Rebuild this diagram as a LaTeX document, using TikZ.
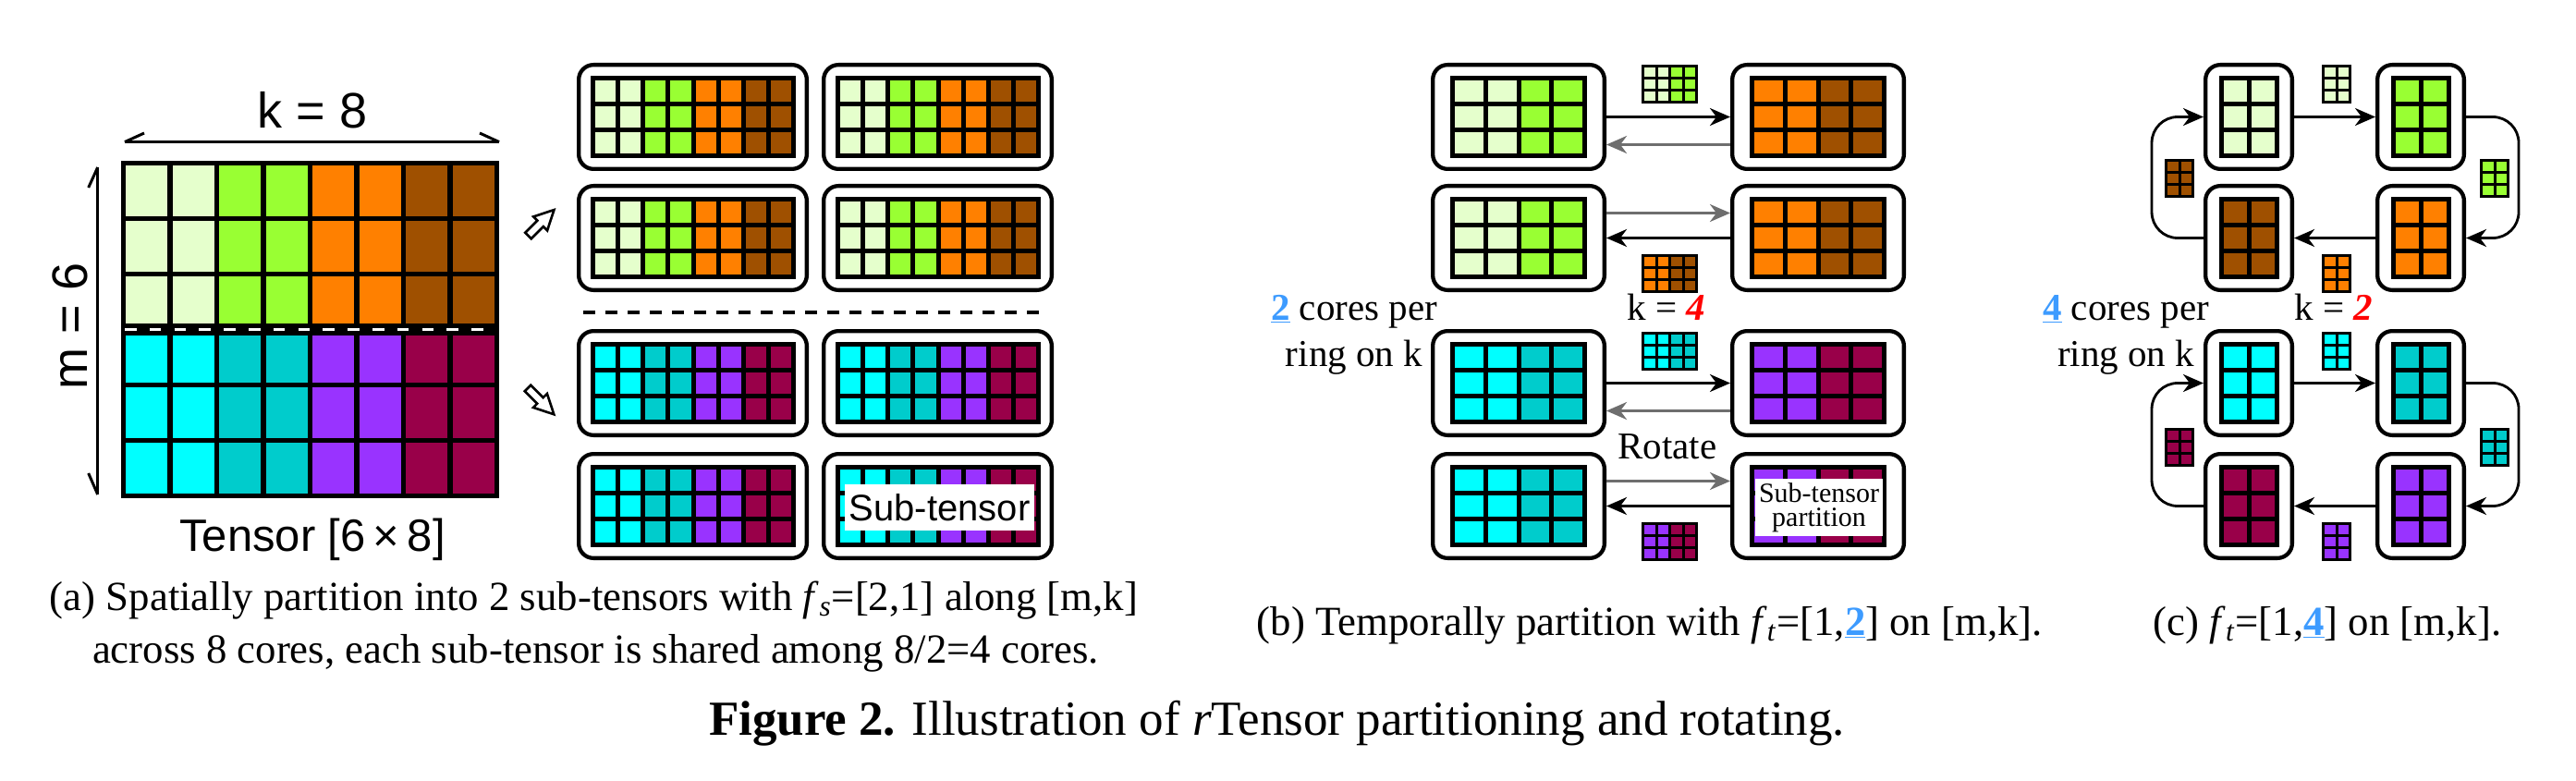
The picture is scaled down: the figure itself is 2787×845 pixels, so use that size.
\documentclass[tikz,border=0pt]{standalone}
\usepackage{fontspec}
\setmainfont{Liberation Serif}
\newfontfamily\arialf{Liberation Sans}
\usetikzlibrary{arrows.meta,calc}
\definecolor{lg}{HTML}{E5FFCC}
\definecolor{gr}{HTML}{99FF33}
\definecolor{og}{HTML}{FF8000}
\definecolor{br}{HTML}{9F5000}
\definecolor{cy}{HTML}{00FFFF}
\definecolor{tl}{HTML}{00CCCC}
\definecolor{pu}{HTML}{9933FF}
\definecolor{mr}{HTML}{990049}
\definecolor{lnk}{HTML}{3D9BFF}
\definecolor{gry}{HTML}{6E6E6E}
% x0, y0, cell w, cell h, last row index, line width, colour list
\newcommand{\tgrid}[7]{%
  \foreach \cc [count=\ii from 0] in #7{%
    \foreach \jj in {0,...,#5}{%
      \draw[line width=#6, fill=\cc] ({#1+\ii*#3},{#2+\jj*#4}) rectangle ++(#3,#4);
    }}}
\begin{document}
\begin{tikzpicture}[x=0.5pt,y=-0.5pt,
  corebox/.style={draw, line width=2.15pt, rounded corners=8pt, inner sep=0pt, fill=white},
  blkarr/.style={line width=1.4pt, -{Stealth[length=11pt,width=9.5pt,inset=3.5pt]}},
  gryarr/.style={blkarr, draw=gry},
  dimline/.style={line width=1.5pt},
  hollow/.style={line width=1.3pt, fill=white, line join=miter},
  sanslbl/.style={font=\arialf\fontsize{27}{30}\selectfont, inner sep=0pt},
  seriflbl/.style={font=\fontsize{20.5}{25}\selectfont, inner sep=0pt, anchor=base},
  caplbl/.style={font=\fontsize{22.4}{26}\selectfont, inner sep=0pt, anchor=base}]
\useasboundingbox (0,0) rectangle (2787,845);

% ---------------- (a) big tensor ----------------
\tgrid{133.7}{176.7}{50.45}{59.93}{2}{2.7pt}{{lg,lg,gr,gr,og,og,br,br}}
\tgrid{133.7}{356.5}{50.45}{59.93}{2}{2.7pt}{{cy,cy,tl,tl,pu,pu,mr,mr}}
\coordinate (midL) at (133.7,356.5);
\coordinate (midR) at (537.3,356.5);
\draw[line width=6.5pt] (midL) -- (midR);
\draw[white, line width=1.8pt, dash pattern=on 6.25pt off 7.15pt] (135,356.5) -- (524,356.5);

% k = 8 dimension
\coordinate (kL) at (135,153.6);
\coordinate (kR) at (540,153.6);
\draw[dimline] (kL) -- (kR);
\draw[dimline] (kL) -- (156,144);
\draw[dimline] (kR) -- (519,144);
\node[sanslbl, anchor=base] (klab) at (338,138.6) {k = 8};
% m = 6 dimension
\coordinate (mT) at (105.7,181);
\coordinate (mB) at (105.7,535);
\draw[dimline] (mT) -- (mB);
\draw[dimline] (mT) -- (95.7,203);
\draw[dimline] (mB) -- (95.7,512);
\node[sanslbl, rotate=90, anchor=base] (mlab) at (94,353) {m = 6};
\node[font=\arialf\fontsize{24.5}{28}\selectfont, inner sep=0pt, anchor=base] (tlab) at (338,596) {Tensor [6\,×\,8]};

% hollow arrows
\draw[hollow] (568.25,251.75) -- (581.33,238.67) -- (577.08,234.42) -- (599.43,227.07)
  -- (592.08,249.42) -- (587.83,245.17) -- (574.75,258.25) -- cycle;
\draw[hollow] (574.25,416.75) -- (587.68,430.18) -- (591.93,425.93) -- (599.28,448.28)
  -- (576.93,440.93) -- (581.18,436.68) -- (567.75,423.25) -- cycle;

% (a) cores
\foreach \r/\yt/\cols in {1/68/{lg,lg,gr,gr,og,og,br,br},2/199/{lg,lg,gr,gr,og,og,br,br},
                          3/356/{cy,cy,tl,tl,pu,pu,mr,mr},4/489/{cy,cy,tl,tl,pu,pu,mr,mr}}{
  \foreach \c/\xl in {1/624,2/889}{
    \node[corebox, minimum width=123.35pt, minimum height=56.35pt] (a\r\c) at (\xl+125.5,\yt+58.5) {};
    \tgrid{\xl+17.5}{\yt+16.5}{27.125}{28}{2}{2.5pt}{\cols}
  }}
\coordinate (dashL) at (631,338);
\coordinate (dashR) at (1130,338);
\draw[line width=2pt, dash pattern=on 6.25pt off 5.75pt] (dashL) -- (dashR);
\node[fill=white, inner sep=0pt, minimum width=102.5pt, minimum height=25pt,
  font=\arialf\fontsize{20}{22}\selectfont] (sublab) at (1016.5,549) {Sub-tensor};

% ---------------- (b) ----------------
\foreach \r/\yt/\cl/\cR in {1/68/{lg,lg,gr,gr}/{og,og,br,br},2/199/{lg,lg,gr,gr}/{og,og,br,br},
                            3/356/{cy,cy,tl,tl}/{pu,pu,mr,mr},4/489/{cy,cy,tl,tl}/{pu,pu,mr,mr}}{
  \node[corebox, minimum width=92.85pt, minimum height=56.35pt] (b\r1) at (1643,\yt+58.5) {};
  \tgrid{1571.5}{\yt+16.5}{35.75}{28}{2}{2.5pt}{\cl}
  \node[corebox, minimum width=92.85pt, minimum height=56.35pt] (b\r2) at (1967,\yt+58.5) {};
  \tgrid{1895.5}{\yt+16.5}{35.75}{28}{2}{2.5pt}{\cR}
}
\foreach \r in {1,3}{
  \draw[blkarr] (b\r1.east) -- (b\r2.west);
  \draw[gryarr] ([yshift=-15pt]b\r2.west) -- ([yshift=-15pt]b\r1.east);
}
\foreach \r in {2,4}{
  \draw[gryarr] ([yshift=13.5pt]b\r1.east) -- ([yshift=13.5pt]b\r2.west);
  \draw[blkarr] (b\r2.west) -- (b\r1.east);
}
\tgrid{1777.5}{71.5}{14.5}{13}{2}{1.5pt}{{lg,lg,gr,gr}}
\tgrid{1777.5}{276.5}{14.5}{13}{2}{1.5pt}{{og,og,br,br}}
\tgrid{1777.5}{360.5}{14.5}{13}{2}{1.5pt}{{cy,cy,tl,tl}}
\tgrid{1777.5}{566.5}{14.5}{13}{2}{1.5pt}{{pu,pu,mr,mr}}
\node[seriflbl] (b2c1) at (1465,346) {{\color{lnk}\underline{\textbf{2}}} cores per};
\node[seriflbl] (b2c2) at (1465,396) {ring on k};
\node[seriflbl] (bk) at (1803,346) {k = {\color{red}\textbf{\textit{4}}}};
\node[seriflbl] (brot) at (1804,496) {Rotate};
\node[fill=white, inner sep=0pt, minimum width=69pt, minimum height=31pt, align=center,
  font=\fontsize{15}{13}\selectfont] (stp) at (1968,549) {Sub-tensor\\partition};

% ---------------- (c) ----------------
\foreach \r/\yt/\cl/\cR in {1/68/lg/gr,2/199/br/og,3/356/cy/tl,4/489/mr/pu}{
  \node[corebox, minimum width=46.85pt, minimum height=56.35pt] (c\r1) at (2433,\yt+58.5) {};
  \tgrid{2403.5}{\yt+16.5}{30}{28}{2}{2.5pt}{{\cl,\cl}}
  \node[corebox, minimum width=46.85pt, minimum height=56.35pt] (c\r2) at (2619,\yt+58.5) {};
  \tgrid{2589.5}{\yt+16.5}{30}{28}{2}{2.5pt}{{\cR,\cR}}
}
\foreach \t/\bo in {1/2,3/4}{
  \draw[blkarr] (c\t1.east) -- (c\t2.west);
  \draw[blkarr] (c\bo2.west) -- (c\bo1.east);
  \draw[blkarr, rounded corners=14pt] (c\t2.east) -- ++(57,0) |- (c\bo2.east);
  \draw[blkarr, rounded corners=14pt] (c\bo1.west) -- ++(-56,0) |- (c\t1.west);
}
\tgrid{2513.5}{71.5}{14.5}{13}{2}{1.5pt}{{lg,lg}}
\tgrid{2684.5}{174}{14.5}{13}{2}{1.5pt}{{gr,gr}}
\tgrid{2513.5}{276.5}{14.5}{13}{2}{1.5pt}{{og,og}}
\tgrid{2343.5}{174}{14.5}{13}{2}{1.5pt}{{br,br}}
\tgrid{2513.5}{360.5}{14.5}{13}{2}{1.5pt}{{cy,cy}}
\tgrid{2684.5}{464}{14.5}{13}{2}{1.5pt}{{tl,tl}}
\tgrid{2513.5}{566.5}{14.5}{13}{2}{1.5pt}{{pu,pu}}
\tgrid{2343.5}{464}{14.5}{13}{2}{1.5pt}{{mr,mr}}
\node[seriflbl] (c4c1) at (2300,346) {{\color{lnk}\underline{\textbf{4}}} cores per};
\node[seriflbl] (c4c2) at (2300,396) {ring on k};
\node[seriflbl] (ck) at (2525,346) {k = {\color{red}\textbf{\textit{2}}}};

% ---------------- captions ----------------
\node[caplbl] (capa1) at (642.5,660) {(a) Spatially partition into 2 sub-tensors with \textit{f}\textsubscript{\textit{s}}=[2,1] along [m,k]};
\node[caplbl] (capa2) at (644.5,717) {across 8 cores, each sub-tensor is shared among 8/2=4 cores.};
\node[caplbl] (capb) at (1785,687) {(b) Temporally partition with \textit{f}\textsubscript{\textit{t}}=[1,{\color{lnk}\underline{\textbf{2}}}] on [m,k].};
\node[caplbl] (capc) at (2518,687) {(c) \textit{f}\textsubscript{\textit{t}}=[1,{\color{lnk}\underline{\textbf{4}}}] on [m,k].};
\node[font=\fontsize{26.5}{30}\selectfont, inner sep=0pt, anchor=base] (fig) at (1381.5,795)
  {\textbf{Figure 2.} Illustration of \textit{r}Tensor partitioning and rotating.};
\end{tikzpicture}
\end{document}
